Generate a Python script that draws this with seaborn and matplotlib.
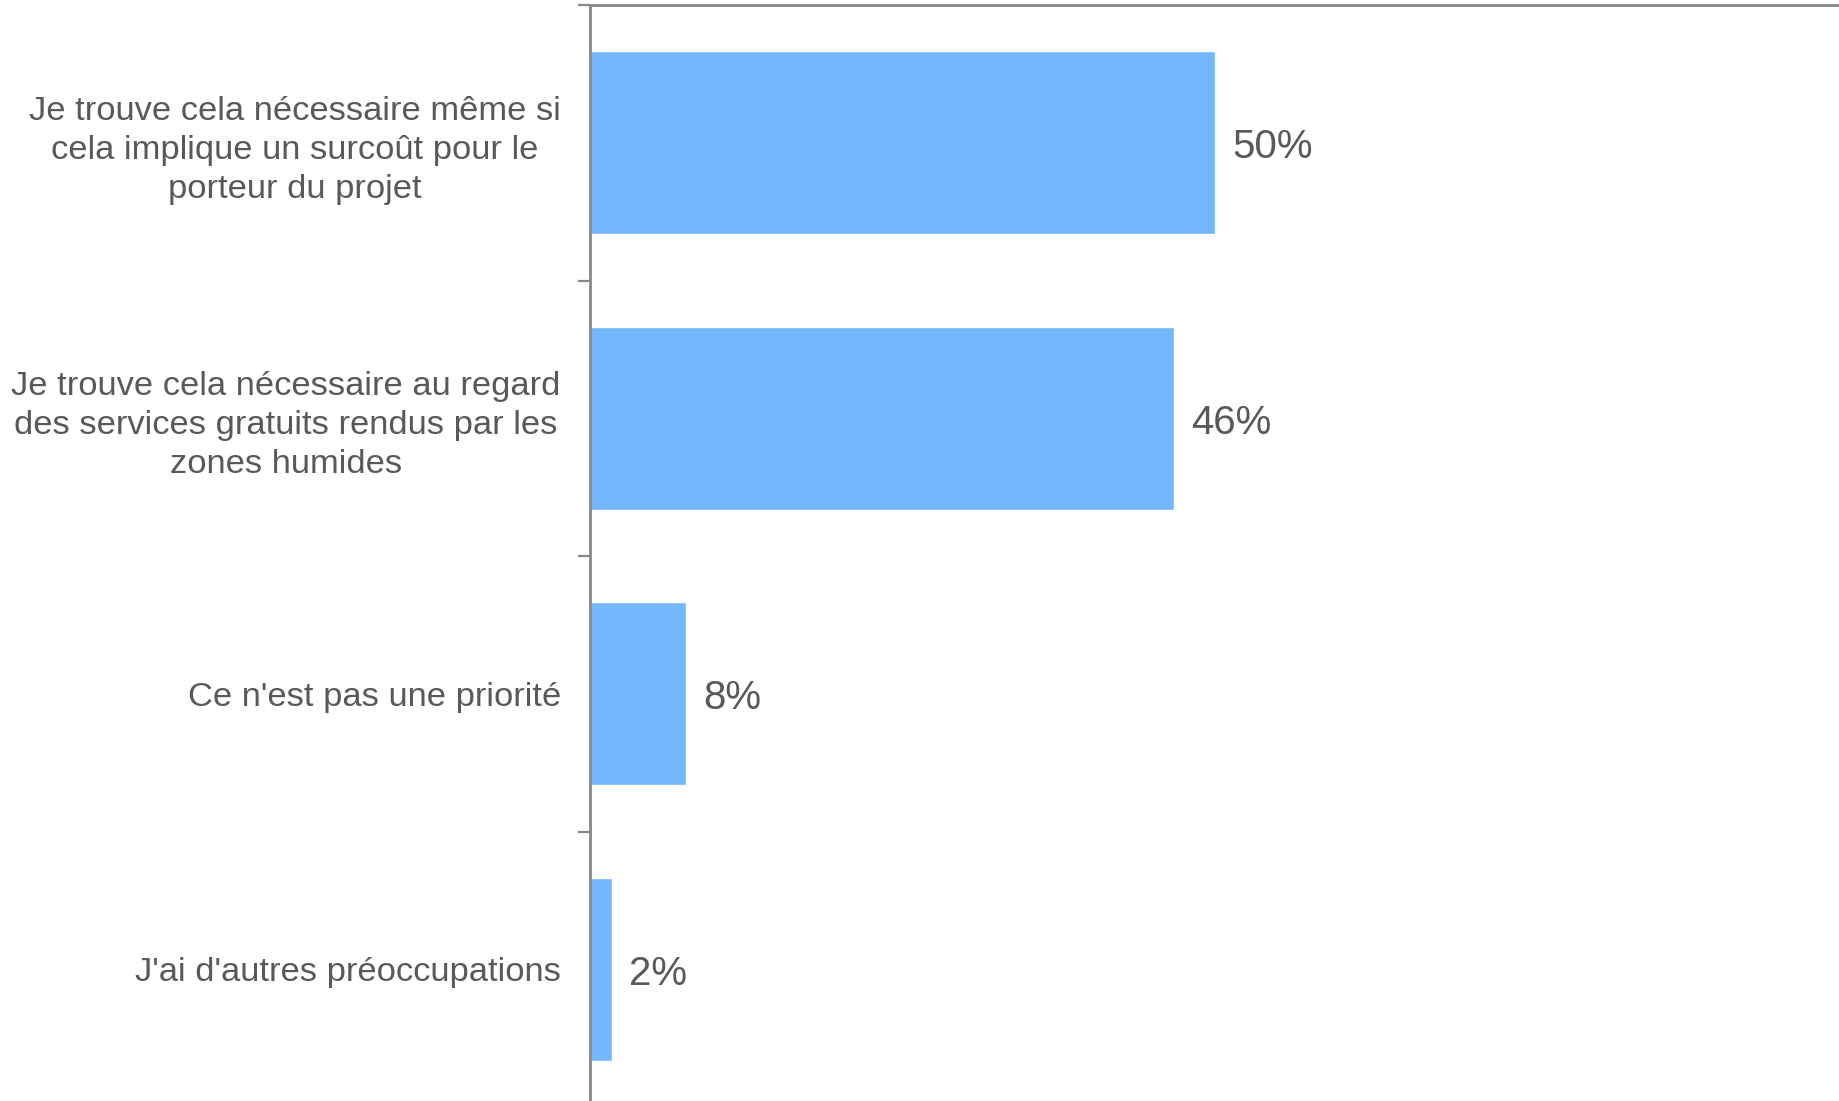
import matplotlib
matplotlib.use("Agg")
import matplotlib.pyplot as plt
import seaborn as sns
import pandas as pd

categories = [
    "Je trouve cela nécessaire même si\ncela implique un surcoût pour le\nporteur du projet",
    "Je trouve cela nécessaire au regard\ndes services gratuits rendus par les\nzones humides",
    "Ce n'est pas une priorité",
    "J'ai d'autres préoccupations",
]
values = [50.0, 46.7, 7.7, 1.8]
value_labels = ["50%", "46%", "8%", "2%"]

sns.set_theme(style="white")
plt.rcParams["font.family"] = ["Liberation Sans", "DejaVu Sans"]

W, H = 1840, 1101
fig = plt.figure(figsize=(W / 100, H / 100), dpi=100)
ax = fig.add_axes([590 / W, -6 / H, 1250 / W, 1102 / H])

df = pd.DataFrame({"cat": categories, "val": values})
sns.barplot(data=df, y="cat", x="val", orient="h", color="#73B7FC",
            saturation=1, width=0.666, ax=ax)

ax.set_xlim(0, 100)
ax.set_ylim(3.5, -0.5)
ax.set_xlabel("")
ax.set_ylabel("")
ax.set_xticks([])

gray = "#888888"
for s in ["right", "bottom"]:
    ax.spines[s].set_visible(False)
for s in ["left", "top"]:
    ax.spines[s].set_color(gray)
    ax.spines[s].set_linewidth(2)

# category labels centered between boundary ticks
ax.set_yticks([-0.5, 0.5, 1.5, 2.5, 3.5])
ax.set_yticklabels([])
ax.tick_params(axis="y", which="major", length=9, width=1.6, color=gray, left=True)
ax.set_yticks(range(len(categories)), minor=True)
ax.set_yticklabels(categories, minor=True, fontsize=24.8, color="#595959",
                   ha="right", multialignment="center", linespacing=1.34)
ax.tick_params(axis="y", which="minor", length=0, pad=21)

for i, (v, lab) in enumerate(zip(values, value_labels)):
    ax.annotate(lab, (v, i), xytext=(12.2, -11.2), textcoords="offset points",
                va="baseline", ha="left", fontsize=29, color="#595959")

fig.savefig("out.png", dpi=100)
